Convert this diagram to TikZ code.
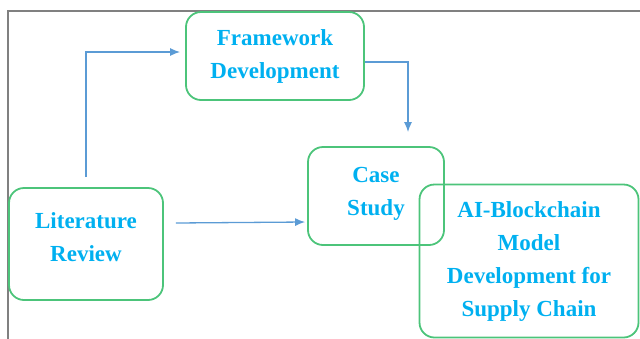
\documentclass[tikz,border=0pt]{standalone}
\usepackage{fontspec}
\setmainfont{Liberation Serif}
\usetikzlibrary{arrows.meta}
\definecolor{boxgreen}{HTML}{4CC47A}
\definecolor{txtcyan}{HTML}{00B0F0}
\definecolor{arrblue}{HTML}{5B9BD5}
\tikzset{
  stage/.style={draw=boxgreen, line width=1.8pt, rounded corners=15pt, align=center,
    text=txtcyan, font=\fontsize{23}{33}\selectfont\bfseries},
  flow/.style={draw=arrblue, line width=1.3pt, -{Latex[length=10pt,width=8pt]}},
}

\begin{document}
\begin{tikzpicture}[x=1pt,y=-1pt]
    \useasboundingbox (0,0) rectangle (640,338);
    \draw[gray, line width=2pt] (8,400) |- (700,11);

    \node[stage, minimum width=178pt, minimum height=88pt] at (275,56)  (fw)  {Framework\\Development};
    \node[stage, minimum width=136pt, minimum height=98pt, text depth=9pt] at (376,196) (cs)  {Case\\Study};
    \node[stage, minimum width=154pt, minimum height=112pt, text depth=14pt] at (86,244) (lit) {Literature\\Review};
    \node[stage, minimum width=219pt, minimum height=153pt] at (529,261) (ai) {AI-Blockchain\\Model\\Development for\\Supply Chain};

    \draw[flow] ([yshift=10pt]lit.north) |- ([xshift=-5pt,yshift=4pt]fw.west);
    \draw[flow] ([yshift=-6pt]fw.east) -| ([xshift=32pt,yshift=14pt]cs.north);
    \draw[flow] ([xshift=12pt,yshift=21pt]lit.east) -- ([xshift=-2pt,yshift=-26pt]cs.west);
\end{tikzpicture}
\end{document}
